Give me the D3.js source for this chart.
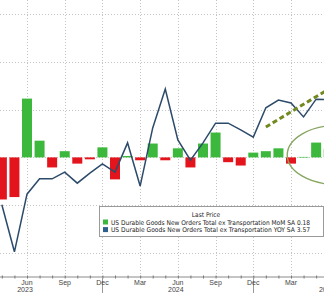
<!DOCTYPE html>
<html><head><meta charset="utf-8">
<script src="https://cdn.jsdelivr.net/npm/d3@7"></script>
<style>
html,body{margin:0;padding:0;background:#fff;}
svg{display:block;}
</style></head>
<body>
<script>
// ---- data ----
const months = ["2023-04","2023-05","2023-06","2023-07","2023-08","2023-09","2023-10","2023-11","2023-12",
  "2024-01","2024-02","2024-03","2024-04","2024-05","2024-06","2024-07","2024-08","2024-09","2024-10","2024-11","2024-12",
  "2025-01","2025-02","2025-03","2025-04","2025-05","2025-06"];
const momValues = [-0.88,-0.83,1.23,0.35,-0.21,0.13,-0.13,-0.04,0.21,
  -0.46,0.03,-0.06,0.29,-0.06,0.19,-0.21,0.29,0.52,-0.10,-0.17,0.10,
  0.13,0.19,-0.13,0.01,0.31,0.18];
const yoyValues = [1.38,0.40,1.60,1.92,1.92,2.06,1.83,2.04,2.23,
  2.06,2.67,1.77,2.98,3.79,2.73,2.31,2.67,3.08,3.08,2.94,2.79,
  3.40,3.56,3.50,3.21,3.58,3.57];
const tickMonths = ["2023-06","2023-09","2023-12","2024-03","2024-06","2024-09","2024-12","2025-03"];
const tickLabels = ["Jun","Sep","Dec","Mar","Jun","Sep","Dec","Mar"];
const yearMonths = ["2023-06","2024-06","2025-06"];
const yearLabels = ["2023","2024","2025"];
const separatorMonths = ["2023-12","2024-12"];
const leftGridValues = [-2,-1,0,1,2,3];
const trendMonths = ["2025-01","2025-06"];
const trendValues = [3.0,3.79];
const ellipseCenter = [26.7, 0.05];  // month index, MoM units
const ellipseRadius = [4.0, 0.62];
const legendTitle = "Last Price";
const legendLabels = ["US Durable Goods New Orders Total ex Transportation MoM SA 0.18",
                      "US Durable Goods New Orders Total ex Transportation YOY SA 3.57"];

// ---- layout ----
const W = 324, H = 293;
const axisY = 277;
const green = "#3cb93c", red = "#e3141c", blue = "#2c4a6a";

const svg = d3.select("body").append("svg").attr("width", W).attr("height", H);
const idx = m => months.indexOf(m);

const x = d3.scaleLinear().domain([idx("2023-06"), idx("2025-03")]).range([27, 291]);
const yL = d3.scaleLinear().domain([-2, 3]).range([253, 14]);
const yR = d3.scaleLinear().domain([0, 4]).range([271, 79]);

// grid
const grid = svg.append("g").attr("stroke", "#c4c4c4").attr("stroke-width", 1).attr("stroke-dasharray", "1,2");
grid.selectAll("line.h").data(leftGridValues).join("line").attr("class","h")
  .attr("x1", 0).attr("x2", W).attr("y1", d => Math.round(yL(d)) + 0.5).attr("y2", d => Math.round(yL(d)) + 0.5);
grid.selectAll("line.v").data(tickMonths).join("line").attr("class","v")
  .attr("x1", d => Math.round(x(idx(d))) + 0.5).attr("x2", d => Math.round(x(idx(d))) + 0.5)
  .attr("y1", 0).attr("y2", axisY);

// bars
const bw = 10;
svg.append("g").selectAll("rect").data(momValues).join("rect")
  .attr("x", (d, i) => x(i) - bw / 2)
  .attr("width", bw)
  .attr("y", d => d >= 0 ? yL(d) : yL(0))
  .attr("height", d => Math.max(0.6, Math.abs(yL(d) - yL(0))))
  .attr("fill", d => d >= 0 ? green : red);

// line
const line = d3.line().x((d, i) => x(i)).y(d => yR(d));
svg.append("path").datum(yoyValues).attr("d", line)
  .attr("fill", "none").attr("stroke", blue).attr("stroke-width", 1.5).attr("stroke-linejoin", "miter");

// trend annotation
svg.append("line")
  .attr("x1", x(idx(trendMonths[0]))).attr("y1", yR(trendValues[0]))
  .attr("x2", x(idx(trendMonths[1]))).attr("y2", yR(trendValues[1]))
  .attr("stroke", "#72891f").attr("stroke-width", 3).attr("stroke-dasharray", "5,3");

// ellipse annotation
svg.append("ellipse")
  .attr("cx", x(ellipseCenter[0])).attr("cy", yL(ellipseCenter[1]))
  .attr("rx", x(ellipseCenter[0]) - x(ellipseCenter[0] - ellipseRadius[0]))
  .attr("ry", yL(0) - yL(ellipseRadius[1]))
  .attr("fill", "none").attr("stroke", "#88a661").attr("stroke-width", 1.4);

// axis
const axis = d3.axisBottom(x).tickValues(months.map((m, i) => i)).tickSize(2).tickFormat("");
const ag = svg.append("g").attr("transform", `translate(0,${axisY})`).call(axis);
ag.select(".domain").attr("stroke", "#8a8a8a").attr("d", `M0,0H${W}`);
ag.selectAll(".tick line").attr("stroke", "#777").attr("y1", -1.5).attr("y2", 1.5);

svg.append("g").selectAll("line").data(separatorMonths).join("line")
  .attr("x1", d => Math.round(x(idx(d))) + 0.5).attr("x2", d => Math.round(x(idx(d))) + 0.5)
  .attr("y1", axisY).attr("y2", H).attr("stroke", "#9a9a9a").attr("stroke-width", 1);

svg.append("g").selectAll("text").data(tickLabels).join("text")
  .attr("x", (d, i) => x(idx(tickMonths[i]))).attr("y", 284.5)
  .attr("text-anchor", "middle").attr("font-family", "Liberation Sans, Arial, sans-serif")
  .attr("font-size", 7).attr("fill", "#444").text(d => d);
svg.append("g").selectAll("text").data(yearLabels).join("text")
  .attr("x", (d, i) => x(idx(yearMonths[i])) - 2).attr("y", 292)
  .attr("text-anchor", "middle").attr("font-family", "Liberation Sans, Arial, sans-serif")
  .attr("font-size", 7).attr("fill", "#444").text(d => d);

// legend
const lg = svg.append("g");
lg.append("rect").attr("x", 99.5).attr("y", 206.5).attr("width", 224).attr("height", 30)
  .attr("fill", "#fff").attr("stroke", "#9a9a9a").attr("stroke-width", 1);
lg.append("text").attr("x", 206).attr("y", 216.5).attr("text-anchor", "middle")
  .attr("font-family", "DejaVu Sans Condensed, Liberation Sans, sans-serif").attr("font-size", 6.5)
  .attr("fill", "#222").text(legendTitle);
const legColors = [green, "#2f5f8c"];
legendLabels.forEach((t, i) => {
  const yy = 224.5 + i * 7.6;
  lg.append("rect").attr("x", 103).attr("y", yy - 5).attr("width", 5).attr("height", 5).attr("fill", legColors[i]);
  lg.append("text").attr("x", 111).attr("y", yy)
    .attr("font-family", "DejaVu Sans Condensed, Liberation Sans, sans-serif").attr("font-size", 6.5)
    .attr("textLength", 199).attr("lengthAdjust", "spacingAndGlyphs")
    .attr("fill", "#222").text(t);
});
</script>
</body></html>
